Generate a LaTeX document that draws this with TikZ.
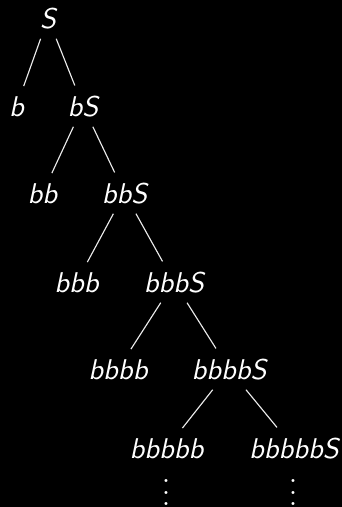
\documentclass[tikz,border=0pt]{standalone}
\usepackage{tikz}
\usetikzlibrary{positioning}
\definecolor{SlideBg}{RGB}{0,0,0}
\definecolor{TermText}{RGB}{255,255,255}
\definecolor{EdgeColor}{RGB}{235,235,235}
\tikzset{
  % Sentential form in the derivation tree
  term/.style={
    text=TermText,
    anchor=base,
    font=\sffamily\itshape
  },
  % Branch between two forms
  branch/.style={
    draw=EdgeColor,
    line width=0.4pt
  },
  % Continuation dots under the last row
  more/.style={
    text=TermText,
    anchor=south,
    inner sep=0pt
  }
}

\begin{document}
\begin{tikzpicture}[x=0.35pt,y=-0.35pt]
  \fill[SlideBg] (0,0) rectangle (342,507);
  \useasboundingbox (0,0) rectangle (342,507);

  \node[term] (s)      at (48,28)    {S};
  \node[term] (b1)     at (16.5,116) {b};
  \node[term] (b1s)    at (83,116)   {bS};
  \node[term] (b2)     at (42.5,203) {bb};
  \node[term] (b2s)    at (124.5,203) {bbS};
  \node[term] (b3)     at (76.5,292) {bbb};
  \node[term] (b3s)    at (174,292)  {bbbS};
  \node[term] (b4)     at (118,379)  {bbbb};
  \node[term] (b4s)    at (229,379)  {bbbbS};
  \node[term] (b5)     at (166.5,458) {bbbbb};
  \node[term] (b5s)    at (294,458)  {bbbbbS};

  \node[more] (dots1)  at (166,506)  {$\vdots$};
  \node[more] (dots2)  at (293,506)  {$\vdots$};

  \draw[branch] (s) -- (b1);
  \draw[branch] (s) -- (b1s);
  \draw[branch] (b1s) -- (b2);
  \draw[branch] (b1s) -- (b2s);
  \draw[branch] (b2s) -- (b3);
  \draw[branch] (b2s) -- (b3s);
  \draw[branch] (b3s) -- (b4);
  \draw[branch] (b3s) -- (b4s);
  \draw[branch] (b4s) -- (b5);
  \draw[branch] (b4s) -- (b5s);
\end{tikzpicture}
\end{document}
